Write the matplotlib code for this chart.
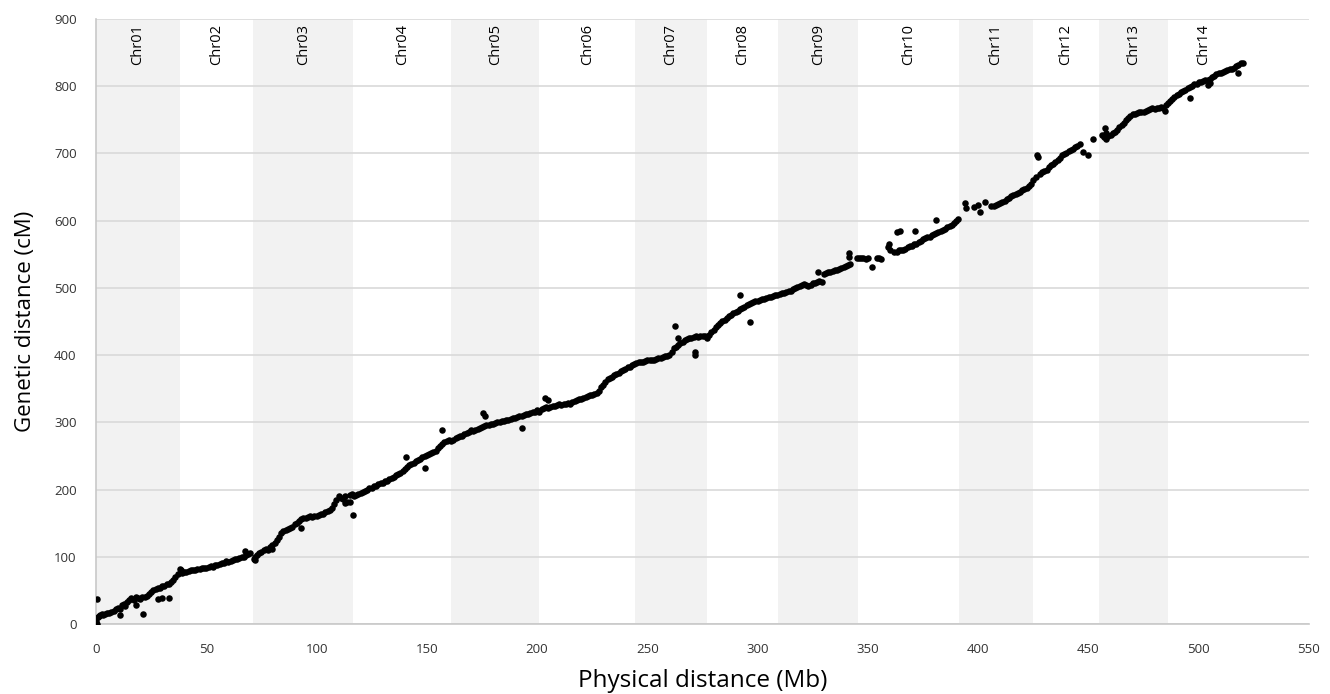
import numpy as np
import matplotlib
matplotlib.use("Agg")
import matplotlib.pyplot as plt

plt.rcParams['font.family'] = ['Open Sans', 'DejaVu Sans']

chrom_names = ["Chr01", "Chr02", "Chr03", "Chr04", "Chr05", "Chr06", "Chr07",
               "Chr08", "Chr09", "Chr10", "Chr11", "Chr12", "Chr13", "Chr14"]
chrom_edges = [0, 38, 71.3, 116.7, 161, 201, 244.4, 277, 309.4, 345.6,
               391.4, 424.7, 454.8, 485.9, 519]

# physical position (Mb) and genetic position (cM) per chromosome
chr01_x = [0, 0.3, 0.5, 1, 1.5, 2, 2.5, 3, 4, 5, 6, 7, 8, 9, 10, 11, 12, 12.5, 13, 14, 15, 16,
           17, 18, 19, 20, 21, 22, 23, 24, 25, 26, 27, 28, 29, 30, 31, 32, 33, 34, 35, 36, 37, 38,
           18, 21.5, 28, 30, 33, 11]
chr01_y = [5, 37, 0, 10, 12, 13, 15, 14, 15, 17, 16, 18, 20, 22, 24, 22, 28, 30, 26, 32, 35, 38,
           36, 40, 38, 37, 40, 40, 42, 45, 48, 50, 52, 54, 53, 56, 57, 60, 60, 62, 65, 70, 75, 82,
           28, 15, 37, 38, 39, 13]

chr02_x = [38.5, 39, 40, 41, 42, 43, 44, 45, 46, 47, 48, 49, 50, 51, 52, 53, 54, 55, 56, 57, 58,
           59, 60, 61, 62, 63, 64, 65, 66, 67, 68, 69, 70, 67.5]
chr02_y = [80, 76, 77, 78, 79, 80, 80, 81, 82, 82, 83, 84, 84, 85, 86, 85, 88, 87, 89, 90, 91,
           93, 92, 94, 95, 96, 97, 98, 99, 100, 102, 104, 106, 108]

chr03_x = [71.5, 72, 73, 74, 75, 76, 77, 78, 79, 80, 81, 82, 83, 84, 85, 86, 87, 88, 89, 90, 91,
           92, 93, 94, 95, 96, 97, 98, 99, 100, 101, 102, 103, 104, 105, 106, 107, 108, 109, 110,
           111, 112, 113, 114, 115, 116, 72, 116.6, 80, 93, 113, 115]
chr03_y = [97, 100, 103, 105, 107, 110, 112, 110, 114, 118, 120, 125, 130, 135, 138, 140, 141,
           143, 145, 148, 150, 153, 156, 157, 158, 159, 160, 159, 160, 161, 162, 163, 164, 166,
           168, 170, 172, 178, 184, 190, 188, 186, 190, 181, 192, 194, 95, 162, 112, 143, 180, 181]

chr04_x = [117, 118, 119, 120, 121, 122, 123, 124, 125, 126, 127, 128, 129, 130, 131, 132, 133,
           134, 135, 136, 137, 138, 139, 140, 141, 142, 143, 144, 145, 146, 147, 148, 149, 150,
           151, 152, 153, 154, 155, 156, 157, 158, 159, 160, 140.6, 149, 157]
chr04_y = [190, 192, 193, 195, 196, 198, 200, 202, 203, 205, 206, 208, 209, 210, 212, 213, 215,
           217, 219, 221, 223, 225, 228, 230, 233, 236, 238, 240, 242, 244, 246, 248, 250, 252,
           253, 254, 256, 258, 262, 265, 268, 270, 272, 274, 249, 232, 289]

chr05_x = [161, 162, 163, 164, 165, 166, 167, 168, 169, 170, 171, 172, 173, 174, 175, 176, 177,
           178, 179, 180, 181, 182, 183, 184, 185, 186, 187, 188, 189, 190, 191, 192, 193, 194,
           195, 196, 197, 198, 199, 200, 175.6, 176.5, 193]
chr05_y = [272, 274, 276, 278, 279, 280, 282, 284, 285, 288, 287, 289, 290, 292, 293, 295, 296,
           296, 298, 298, 299, 300, 301, 302, 302, 303, 304, 305, 306, 307, 308, 309, 310, 311,
           312, 313, 314, 315, 316, 318, 314, 309, 292]

chr06_x = [201, 202, 203, 204, 205, 206, 207, 208, 209, 210, 211, 212, 213, 214, 215, 216, 217,
           218, 219, 220, 221, 222, 223, 224, 225, 226, 227, 228, 229, 230, 231, 232, 233, 234,
           235, 236, 237, 238, 239, 240, 241, 242, 243, 244, 203.6, 205]
chr06_y = [316, 320, 322, 323, 322, 323, 324, 325, 326, 327, 326, 327, 328, 329, 328, 330, 331,
           333, 334, 335, 336, 338, 339, 340, 341, 342, 344, 347, 352, 356, 360, 364, 366, 368,
           370, 372, 374, 376, 378, 380, 382, 383, 385, 387, 336, 333]

chr07_x = [245, 246, 247, 248, 249, 250, 251, 252, 253, 254, 255, 256, 257, 258, 259, 260, 261,
           262, 263, 264, 265, 266, 267, 268, 269, 270, 271, 272, 273, 274, 275, 276,
           262.5, 271.6, 271.5, 264]
chr07_y = [388, 389, 390, 390, 391, 392, 392, 393, 393, 394, 395, 396, 397, 398, 398, 400, 405,
           410, 412, 415, 418, 420, 422, 424, 425, 426, 427, 428, 427, 428, 429, 428,
           443, 405, 400, 425]

chr08_x = [277, 278, 279, 280, 281, 282, 283, 284, 285, 286, 287, 288, 289, 290, 291, 292, 293,
           294, 295, 296, 297, 298, 299, 300, 301, 302, 303, 304, 305, 306, 307, 308, 292, 296.5]
chr08_y = [425, 430, 434, 438, 442, 445, 448, 450, 452, 455, 458, 460, 463, 464, 466, 468, 470,
           471, 474, 476, 478, 479, 480, 481, 482, 483, 484, 485, 486, 487, 488, 489, 489, 449]

chr09_x = [309, 310, 311, 312, 313, 314, 315, 316, 317, 318, 319, 320, 321, 322, 323, 324, 325,
           326, 327, 328, 330, 331, 332, 333, 334, 335, 336, 337, 338, 339, 340, 341, 342, 345,
           346, 327.5, 329, 341.5, 341.5]
chr09_y = [490, 491, 492, 493, 494, 495, 496, 498, 500, 502, 503, 505, 506, 504, 503, 505, 507,
           508, 509, 510, 520, 522, 523, 524, 525, 526, 527, 528, 530, 531, 533, 534, 535, 544,
           544, 524, 509, 552, 546]

chr10_x = [347, 348, 349, 350, 354, 355, 356, 359, 360, 362, 363, 364, 365, 366, 367, 368, 369,
           370, 371, 372, 373, 374, 375, 376, 377, 378, 379, 380, 381, 382, 383, 384, 385, 386,
           387, 388, 389, 390, 391, 352, 363, 364.5, 371.3, 381, 359.6]
chr10_y = [544, 544, 543, 544, 544, 545, 543, 561, 556, 553, 554, 556, 557, 556, 558, 561, 562,
           563, 565, 566, 568, 570, 572, 574, 575, 576, 578, 580, 582, 583, 585, 586, 588, 590,
           592, 594, 596, 599, 602, 531, 583, 584, 584, 601, 565]

chr11_x = [394, 394.5, 398, 400, 401, 403, 406, 407, 408, 409, 410, 411, 412, 413, 414, 415, 416,
           417, 418, 419, 420, 421, 422, 423, 424, 425]
chr11_y = [626, 619, 620, 623, 613, 628, 622, 622, 623, 625, 627, 628, 630, 632, 634, 636, 638,
           640, 641, 643, 645, 647, 649, 652, 655, 660]

chr12_x = [426, 426.5, 427, 428, 429, 430, 431, 432, 433, 434, 435, 436, 437, 438, 439, 440, 441,
           442, 443, 444, 445, 446, 447.5, 450, 452]
chr12_y = [665, 698, 694, 670, 672, 674, 676, 680, 683, 685, 688, 690, 693, 697, 699, 701, 703,
           705, 707, 709, 711, 714, 702, 697, 721]

chr13_x = [456, 457, 457.5, 458, 459, 460, 461, 462, 463, 464, 465, 466, 467, 468, 469, 470, 471,
           472, 473, 474, 475, 476, 477, 478, 479, 480, 481, 482, 483, 484, 485, 458, 484.7]
chr13_y = [728, 725, 738, 730, 726, 728, 730, 732, 735, 740, 743, 746, 750, 753, 756, 758, 759,
           760, 761, 762, 762, 763, 765, 766, 767, 766, 768, 768, 769, 767, 772, 722, 763]

chr14_x = [486, 487, 488, 489, 490, 491, 492, 493, 494, 495, 496, 497, 498, 499, 500, 501, 502,
           503, 504, 505, 506, 507, 508, 509, 510, 511, 512, 513, 514, 515, 516, 517, 518, 519,
           520, 496, 504, 505, 518]
chr14_y = [775, 778, 781, 784, 787, 789, 791, 793, 795, 797, 799, 801, 803, 804, 806, 807, 808,
           809, 810, 811, 813, 815, 818, 819, 820, 821, 822, 824, 825, 826, 827, 830, 832, 834,
           835, 783, 802, 805, 819]

phys = np.concatenate([chr01_x, chr02_x, chr03_x, chr04_x, chr05_x, chr06_x, chr07_x,
                       chr08_x, chr09_x, chr10_x, chr11_x, chr12_x, chr13_x, chr14_x])
gen = np.concatenate([chr01_y, chr02_y, chr03_y, chr04_y, chr05_y, chr06_y, chr07_y,
                      chr08_y, chr09_y, chr10_y, chr11_y, chr12_y, chr13_y, chr14_y])

fig = plt.figure(figsize=(13.3, 6.94), dpi=100)
ax = fig.add_axes([0.0722, 0.1009, 0.912, 0.8717])

for i, name in enumerate(chrom_names):
    lo, hi = chrom_edges[i], chrom_edges[i + 1]
    if i % 2 == 0:
        ax.axvspan(lo, hi, color='#f2f2f2', zorder=0, lw=0)
    ax.text((lo + hi) / 2, 893, name, rotation=90, ha='center', va='top',
            fontsize=10.5, color='black')

ax.scatter(phys, gen, s=22, color='black', zorder=3, linewidths=0)

ax.set_xlim(0, 550)
ax.set_ylim(0, 900)
ax.set_xticks(np.arange(0, 551, 50))
ax.set_yticks(np.arange(0, 901, 100))
ax.yaxis.grid(True, color='#d9d9d9', lw=1.2, zorder=1)
ax.set_axisbelow(True)
ax.tick_params(length=0, labelsize=9.5, colors='#333333')
ax.tick_params(axis='x', pad=14)
ax.tick_params(axis='y', pad=14)
for s in ['top', 'right']:
    ax.spines[s].set_visible(False)
for s in ['left', 'bottom']:
    ax.spines[s].set_color('#c8c8c8')
    ax.spines[s].set_linewidth(1.2)

ax.set_xlabel("Physical distance (Mb)", fontsize=17.5, labelpad=9)
ax.set_ylabel("Genetic distance (cM)", fontsize=16, labelpad=13)

fig.savefig("out.png", dpi=100)
